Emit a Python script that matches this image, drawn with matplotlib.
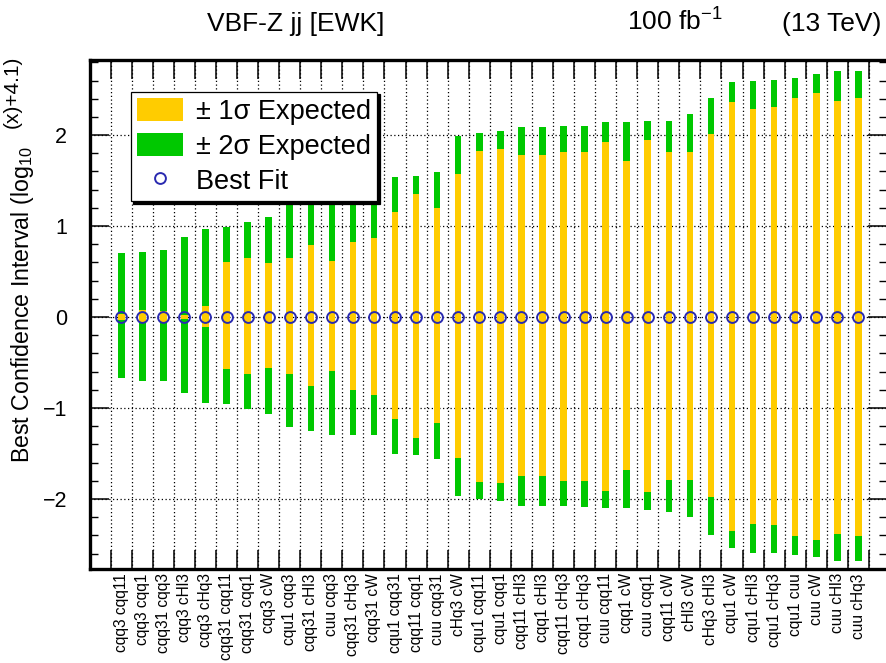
import numpy as np
import matplotlib
matplotlib.use("Agg")
import matplotlib.pyplot as plt
from matplotlib.patches import Patch
from matplotlib.lines import Line2D
from matplotlib.ticker import MultipleLocator, FixedLocator

plt.rcParams['font.family'] = ['Liberation Sans', 'DejaVu Sans']
plt.rcParams['mathtext.fontset'] = 'custom'
plt.rcParams['mathtext.rm'] = 'Liberation Sans'
plt.rcParams['mathtext.it'] = 'Liberation Sans:italic'

#===== DATA =====#
labels = ['cqq3 cqq11', 'cqq3 cqq1', 'cqq31 cqq3', 'cqq3 cHl3', 'cqq3 cHq3',
          'cqq31 cqq11', 'cqq31 cqq1', 'cqq3 cW', 'cqu1 cqq3', 'cqq31 cHl3',
          'cuu cqq3', 'cqq31 cHq3', 'cqq31 cW', 'cqu1 cqq31', 'cqq11 cqq1',
          'cuu cqq31', 'cHq3 cW', 'cqu1 cqq11', 'cqu1 cqq1', 'cqq11 cHl3',
          'cqq1 cHl3', 'cqq11 cHq3', 'cqq1 cHq3', 'cuu cqq11', 'cqq1 cW',
          'cuu cqq1', 'cqq11 cW', 'cHl3 cW', 'cHq3 cHl3', 'cqu1 cW',
          'cqu1 cHl3', 'cqu1 cHq3', 'cqu1 cuu', 'cuu cW', 'cuu cHl3', 'cuu cHq3']

up2 = [0.70, 0.72, 0.74, 0.88, 0.97, 0.99, 1.04, 1.10, 1.24, 1.28, 1.32, 1.33,
       1.34, 1.54, 1.55, 1.59, 1.99, 2.02, 2.04, 2.09, 2.09, 2.10, 2.10, 2.14,
       2.14, 2.15, 2.16, 2.23, 2.41, 2.58, 2.60, 2.61, 2.63, 2.67, 2.71, 2.71]
up1 = [0.03, 0.08, 0.07, 0.02, 0.12, 0.60, 0.65, 0.59, 0.65, 0.79, 0.62, 0.83,
       0.87, 1.16, 1.35, 1.20, 1.57, 1.82, 1.85, 1.78, 1.78, 1.81, 1.81, 1.92,
       1.71, 1.95, 1.81, 1.81, 2.01, 2.36, 2.29, 2.31, 2.41, 2.46, 2.38, 2.41]
lo1 = [-0.03, -0.07, -0.07, -0.02, -0.11, -0.57, -0.63, -0.56, -0.63, -0.76, -0.59, -0.80,
       -0.86, -1.12, -1.33, -1.17, -1.55, -1.81, -1.82, -1.75, -1.75, -1.80, -1.80, -1.91,
       -1.68, -1.92, -1.79, -1.79, -1.98, -2.35, -2.27, -2.29, -2.41, -2.45, -2.38, -2.41]
lo2 = [-0.67, -0.70, -0.70, -0.84, -0.94, -0.96, -1.01, -1.07, -1.21, -1.25, -1.30, -1.30,
       -1.30, -1.51, -1.52, -1.56, -1.97, -2.00, -2.02, -2.08, -2.08, -2.08, -2.09, -2.10,
       -2.10, -2.12, -2.14, -2.20, -2.40, -2.54, -2.59, -2.59, -2.62, -2.64, -2.68, -2.68]
best_fit = [0.0] * len(labels)

yellow = '#ffcc00'
green = '#00c800'
blue = '#2a2ab0'

#===== FIGURE =====#
fig = plt.figure(figsize=(8.86, 6.63), dpi=100)
ax = fig.add_axes([89.5 / 886, 1 - 569 / 663, (887 - 89.5) / 886, (569 - 60.5) / 663])

x = np.arange(len(labels))
up2 = np.array(up2); lo2 = np.array(lo2)
up1 = np.array(up1); lo1 = np.array(lo1)

ax.bar(x, up2 - lo2, bottom=lo2, width=0.31, color=green, linewidth=0, zorder=2)
ax.bar(x, up1 - lo1, bottom=lo1, width=0.31, color=yellow, linewidth=0, zorder=3)
ax.plot(x, best_fit, 'o', mfc='none', mec=blue, mew=1.4, ms=7.8, zorder=4)

ax.set_xlim(-1.507, 36.36)
ax.set_ylim(-2.77, 2.82)

# x: major ticks on bin edges, labels on bin centres
ax.xaxis.set_major_locator(FixedLocator(np.arange(len(labels) + 1) - 0.5))
ax.xaxis.set_minor_locator(FixedLocator(x))
ax.set_xticklabels([], minor=False)
ax.set_xticklabels(labels, minor=True, rotation=90, fontsize=11.2, va='top', ha='center')
ax.tick_params(axis='x', which='major', direction='in', top=True, bottom=True,
               length=14, width=1.1)
ax.tick_params(axis='x', which='minor', length=0, pad=3)

ax.yaxis.set_major_locator(MultipleLocator(1))
ax.yaxis.set_minor_locator(MultipleLocator(0.2))
ax.tick_params(axis='y', which='major', direction='in', left=True, right=True,
               length=14, width=1.1, labelsize=15.5, pad=16)
ax.tick_params(axis='y', which='minor', direction='in', left=True, right=True,
               length=5.8, width=1.0)

ax.grid(True, which='major', color='black', linestyle=(0, (1, 2)), linewidth=0.9)
ax.set_axisbelow(True)
for sp in ax.spines.values():
    sp.set_linewidth(2.4)

# legend
handles = [Patch(facecolor=yellow, edgecolor='none'),
           Patch(facecolor=green, edgecolor='none'),
           Line2D([], [], linestyle='none', marker='o', mfc='none', mec=blue, mew=1.4, ms=7.8)]
leg = ax.legend(handles, [u'\u00b1 1\u03c3 Expected', u'\u00b1 2\u03c3 Expected', 'Best Fit'],
                loc='upper left', bbox_to_anchor=(130.7 / 886, 1 - 91.7 / 663),
                bbox_transform=fig.transFigure, borderaxespad=0, fontsize=19.5,
                handlelength=1.7, handleheight=0.95, labelspacing=0.3,
                handletextpad=0.5, borderpad=0.22, fancybox=False, framealpha=1,
                edgecolor='black', shadow={'color': 'black', 'alpha': 1, 'ox': 2, 'oy': -2})
leg.get_frame().set_linewidth(0.9)

# texts
fig.text(0.025, 1 - 463 / 663, r'Best Confidence Interval (log$_{10}$',
         rotation=90, ha='center', va='bottom', fontsize=16.7)
fig.text(0.014, 1 - 128 / 663, '(x)+4.1)',
         rotation=90, ha='center', va='bottom', fontsize=15)
fig.text(207 / 886, 1 - 31 / 663, 'VBF-Z jj [EWK]', fontsize=19, va='baseline')
fig.text(627 / 886, 1 - 31 / 663, r'100 fb$^{\mathregular{-1}}$', fontsize=19, va='baseline')
fig.text(782 / 886, 1 - 31 / 663, '(13 TeV)', fontsize=19, va='baseline')

fig.savefig('out.png', dpi=100)
